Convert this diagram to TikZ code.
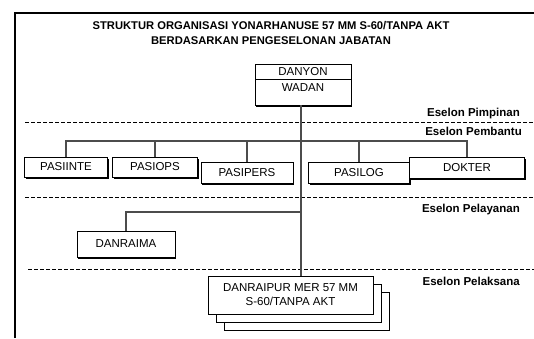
\documentclass[tikz,border=0pt]{standalone}
\usepackage{fontspec}
\setmainfont{Liberation Sans}
\usetikzlibrary{shadows}

\tikzset{
  unitbox/.style={draw, line width=0.8pt, fill=white, font=\fontsize{11.5}{13}\selectfont,
    inner sep=0pt, drop shadow={shadow xshift=1.2pt, shadow yshift=-1.8pt, fill=black, opacity=1}},
  eselon/.style={anchor=east, font=\bfseries\fontsize{11.5}{13}\selectfont, inner sep=0pt},
  levelline/.style={dashed, dash pattern=on 4pt off 2pt, line width=1pt},
  link/.style={draw=black!70, line width=1.6pt}
}

\begin{document}
\begin{tikzpicture}[x=1pt, y=-1pt]
				\useasboundingbox (0,0) rectangle (534,338);
				\draw [line width=2pt] (15,338) -- (15,13) -- (534,13);
				\node (title) at (271,33) [align=center, font=\bfseries\fontsize{11.2}{15}\selectfont]
					{STRUKTUR ORGANISASI YONARHANUSE 57 MM S-60/TANPA AKT\\BERDASARKAN PENGESELONAN JABATAN};
				% levels
				\draw [levelline] (25,122) -- (534,122);
				\draw [levelline] (25,197) -- (534,197);
				\draw [levelline] (28,269) -- (534,269);
				\node [eselon] (pimpinan) at (520,114) {Eselon Pimpinan};
				\node [eselon] (pembantu) at (522,131) {Eselon Pembantu};
				\node [eselon] (pelayanan) at (520,210) {Eselon Pelayanan};
				\node [eselon] (pelaksana) at (520,281) {Eselon Pelaksana};
				% connectors
				\coordinate (bus) at (301,141);
				\coordinate (raima) at (301,212);
				\node [unitbox, minimum width=96pt, minimum height=15pt] (danyon) at (303,71.5) {DANYON};
				\node [unitbox, minimum width=96pt, minimum height=26pt, text depth=9pt] (wadan) at (303,92) {WADAN};
				\node [draw, line width=0.8pt, minimum width=96pt, minimum height=15pt, inner sep=0pt] at (303,71.5) {};
				\node [unitbox, minimum width=83pt, minimum height=20pt] (pasiinte) at (66,167) {PASIINTE};
				\node [unitbox, minimum width=85pt, minimum height=20pt] (pasiops) at (155,167) {PASIOPS};
				\node [unitbox, minimum width=92pt, minimum height=21pt] (pasipers) at (247,172.5) {PASIPERS};
				\node [unitbox, minimum width=101pt, minimum height=21pt] (pasilog) at (359,172.5) {PASILOG};
				\node [unitbox, minimum width=115pt, minimum height=21pt] (dokter) at (467,167.5) {DOKTER};
				\node [unitbox, minimum width=98pt, minimum height=26pt] (danraima) at (126,244) {DANRAIMA};
				\node [draw, line width=0.8pt, fill=white, inner sep=0pt, minimum width=165pt, minimum height=38pt,
					align=center, font=\fontsize{11.5}{14}\selectfont,
					double copy shadow={shadow xshift=8pt, shadow yshift=-8pt, line width=0.8pt}] (danraipur) at (290.5,295)
					{DANRAIPUR MER 57 MM\\S-60/TANPA AKT};
				\draw [link] (bus |- wadan.south) -- (bus |- danraipur.north);
				\draw [link] (pasiinte.north) |- (bus) -| (dokter.north);
				\draw [link] (pasiops.north) -- (pasiops.north |- bus);
				\draw [link] (pasipers.north) -- (pasipers.north |- bus);
				\draw [link] (pasilog.north) -- (pasilog.north |- bus);
				\draw [link] (raima) -| (danraima.north);
			\end{tikzpicture}
\end{document}
